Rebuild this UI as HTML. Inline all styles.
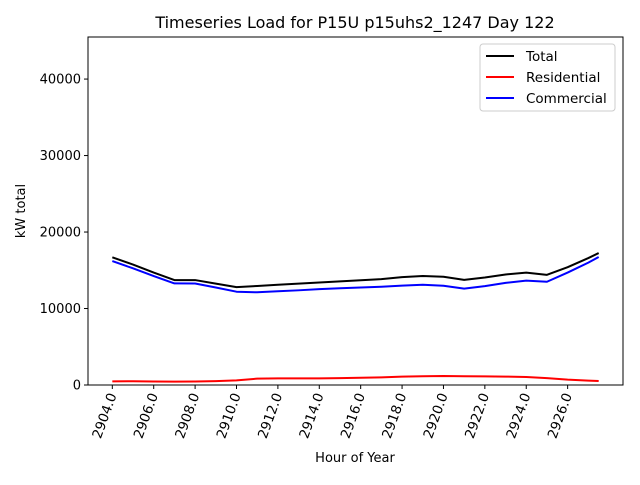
<!DOCTYPE html>
<html><head><meta charset="utf-8"><style>
body{margin:0;background:#fff;}
svg text{font-family:"DejaVu Sans","Liberation Sans",sans-serif;}
</style></head><body>
<svg id="chart" width="640" height="480" xmlns="http://www.w3.org/2000/svg">
<rect width="640" height="480" fill="#fff"/>
<g id="plot"></g>
</svg>
<script>
const hours=[2904,2905,2906,2907,2908,2909,2910,2911,2912,2913,2914,2915,2916,2917,2918,2919,2920,2921,2922,2923,2924,2925,2926,2927,2927.5];
const total=[16700,15750,14700,13720,13720,13250,12800,12950,13100,13250,13400,13550,13700,13850,14100,14250,14150,13750,14050,14450,14700,14400,15400,16600,17250];
const residential=[480,490,460,440,450,500,600,830,860,870,860,900,950,1000,1100,1150,1180,1150,1120,1100,1050,900,700,580,520];
const commercial=[16200,15250,14250,13280,13270,12750,12200,12120,12250,12380,12540,12650,12750,12850,13000,13100,12970,12600,12930,13350,13650,13500,14700,16000,16730];
const xTicks=[2904,2906,2908,2910,2912,2914,2916,2918,2920,2922,2924,2926];
const yTicks=[0,10000,20000,30000,40000];

const L=88,R=623,T=37,B=385;
const xmin=2902.825,xmax=2928.675,ymin=0,ymax=45500;
const sx=v=>L+(v-xmin)/(xmax-xmin)*(R-L);
const sy=v=>B-(v-ymin)/(ymax-ymin)*(B-T);
const NS="http://www.w3.org/2000/svg";
const g=document.getElementById('plot');
function mk(tag,attrs,parent){const e=document.createElementNS(NS,tag);for(const k in attrs)e.setAttribute(k,attrs[k]);(parent||g).appendChild(e);return e;}

const series=[[total,'#000','total-line'],[residential,'#ff0000','residential-line'],[commercial,'#0000ff','commercial-line']];
series.forEach(([d,c,n])=>{
  const p=mk('polyline',{points:d.map((v,i)=>sx(hours[i])+','+sy(v)).join(' '),fill:'none',stroke:c,'stroke-width':2,'stroke-linejoin':'round'});
  
  
});

const frame=mk('rect',{x:L,y:T,width:R-L,height:B-T,fill:'none',stroke:'#000','stroke-width':1});



xTicks.forEach(v=>{
  const x=sx(v);
  mk('line',{x1:x,y1:B,x2:x,y2:B+4,stroke:'#000'});
  const t=mk('text',{x:0,y:0,'font-size':13.5,'text-anchor':'end',transform:`translate(${x+4.5},${B+10}) rotate(-70)`});
  t.textContent=v.toFixed(1);
  
  
});
yTicks.forEach(v=>{
  const y=sy(v);
  mk('line',{x1:L-4,y1:y,x2:L,y2:y,stroke:'#000'});
  const t=mk('text',{x:L-7,y:y+4.5,'font-size':13,'text-anchor':'end'});
  t.textContent=v;
  
  
});

const title=mk('text',{x:355,y:28,'font-size':16,'text-anchor':'middle'});
title.textContent='Timeseries Load for P15U p15uhs2_1247  Day 122';


const xl=mk('text',{x:355,y:462,'font-size':13,'text-anchor':'middle'});
xl.textContent='Hour of Year';


const yl=mk('text',{x:0,y:0,'font-size':13,'text-anchor':'middle',transform:'translate(25,211) rotate(-90)'});
yl.textContent='kW total';



const lg=mk('g',{});


mk('rect',{x:480,y:44,width:135,height:67,rx:3,fill:'#fff',stroke:'#ccc'},lg);
[['Total','#000'],['Residential','#ff0000'],['Commercial','#0000ff']].forEach(([n,c],i)=>{
  const y=56+i*21;
  const e=mk('g',{},lg);
  
  
  mk('line',{x1:486,y1:y,x2:514,y2:y,stroke:c,'stroke-width':2},e);
  const t=mk('text',{x:526,y:y+5,'font-size':13.5},e);
  t.textContent=n;
});
</script>
</body></html>
